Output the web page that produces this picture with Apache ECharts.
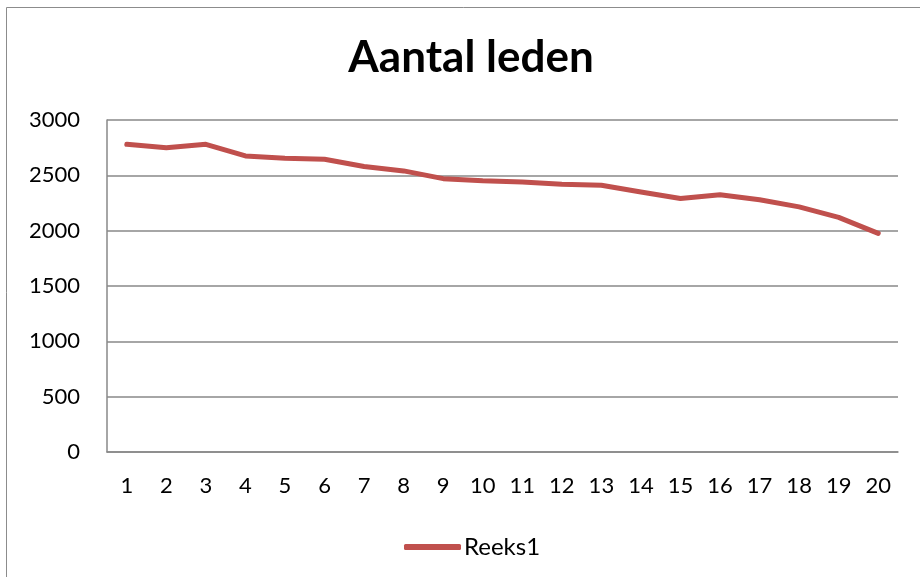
<!DOCTYPE html>
<html>
<head>
<meta charset="utf-8">
<script src="https://cdn.jsdelivr.net/npm/echarts@6/dist/echarts.min.js"></script>
<style>
html,body{margin:0;padding:0;background:#fff;}
#chart{width:920px;height:577px;}
</style>
</head>
<body>
<div id="chart"></div>
<script>
const titleText = "Aantal leden";
const seriesName = "Reeks1";
const categories = ["1","2","3","4","5","6","7","8","9","10","11","12","13","14","15","16","17","18","19","20"];
const values = [2780, 2750, 2780, 2675, 2655, 2645, 2580, 2540, 2470, 2450, 2440, 2420, 2410, 2350, 2290, 2325, 2280, 2215, 2120, 1975];
const yTicks = [0, 500, 1000, 1500, 2000, 2500, 3000];

const chart = echarts.init(document.getElementById('chart'), null, {renderer: 'canvas'});
const font = 'Lato, "Open Sans", sans-serif';
chart.setOption({
  animation: false,
  backgroundColor: '#fff',
  graphic: [{
    type: 'rect',
    shape: {x: 6.5, y: 7.5, width: 1000, height: 1000},
    style: {fill: 'none', stroke: '#8c8c8c', lineWidth: 1},
    silent: true,
    z: -1
  }],
  title: {
    text: titleText,
    left: 466,
    top: 31,
    textAlign: 'center',
    textStyle: {fontFamily: font, fontSize: 44, fontWeight: 'bold', color: '#000'}
  },
  legend: {
    data: [seriesName],
    left: 399,
    top: 530,
    itemWidth: 57,
    itemHeight: 6,
    itemGap: 0,
    icon: 'roundRect',
    textStyle: {fontFamily: font, fontSize: 24, color: '#000', padding: [0,0,0,-2]}
  },
  grid: {left: 107, right: 22, top: 120, bottom: 125, containLabel: false},
  xAxis: {
    type: 'category',
    data: categories,
    boundaryGap: true,
    axisLine: {lineStyle: {color: '#888', width: 1.5}},
    axisTick: {show: false},
    axisLabel: {fontFamily: font, fontSize: 22, color: '#000', margin: 23}
  },
  yAxis: {
    type: 'value',
    min: yTicks[0],
    max: yTicks[yTicks.length - 1],
    interval: 500,
    axisLine: {show: true, lineStyle: {color: '#888', width: 1.5}},
    axisTick: {show: false},
    splitLine: {lineStyle: {color: '#888', width: 1.5}},
    axisLabel: {fontFamily: font, fontSize: 22, color: '#000', margin: 27, formatter: function (v) { return String(v); }}
  },
  series: [{
    name: seriesName,
    type: 'line',
    data: values,
    showSymbol: false,
    symbol: 'none',
    lineStyle: {color: '#C0504D', width: 5, cap: 'round', join: 'round'},
    itemStyle: {color: '#C0504D'}
  }]
});
</script>
</body>
</html>
